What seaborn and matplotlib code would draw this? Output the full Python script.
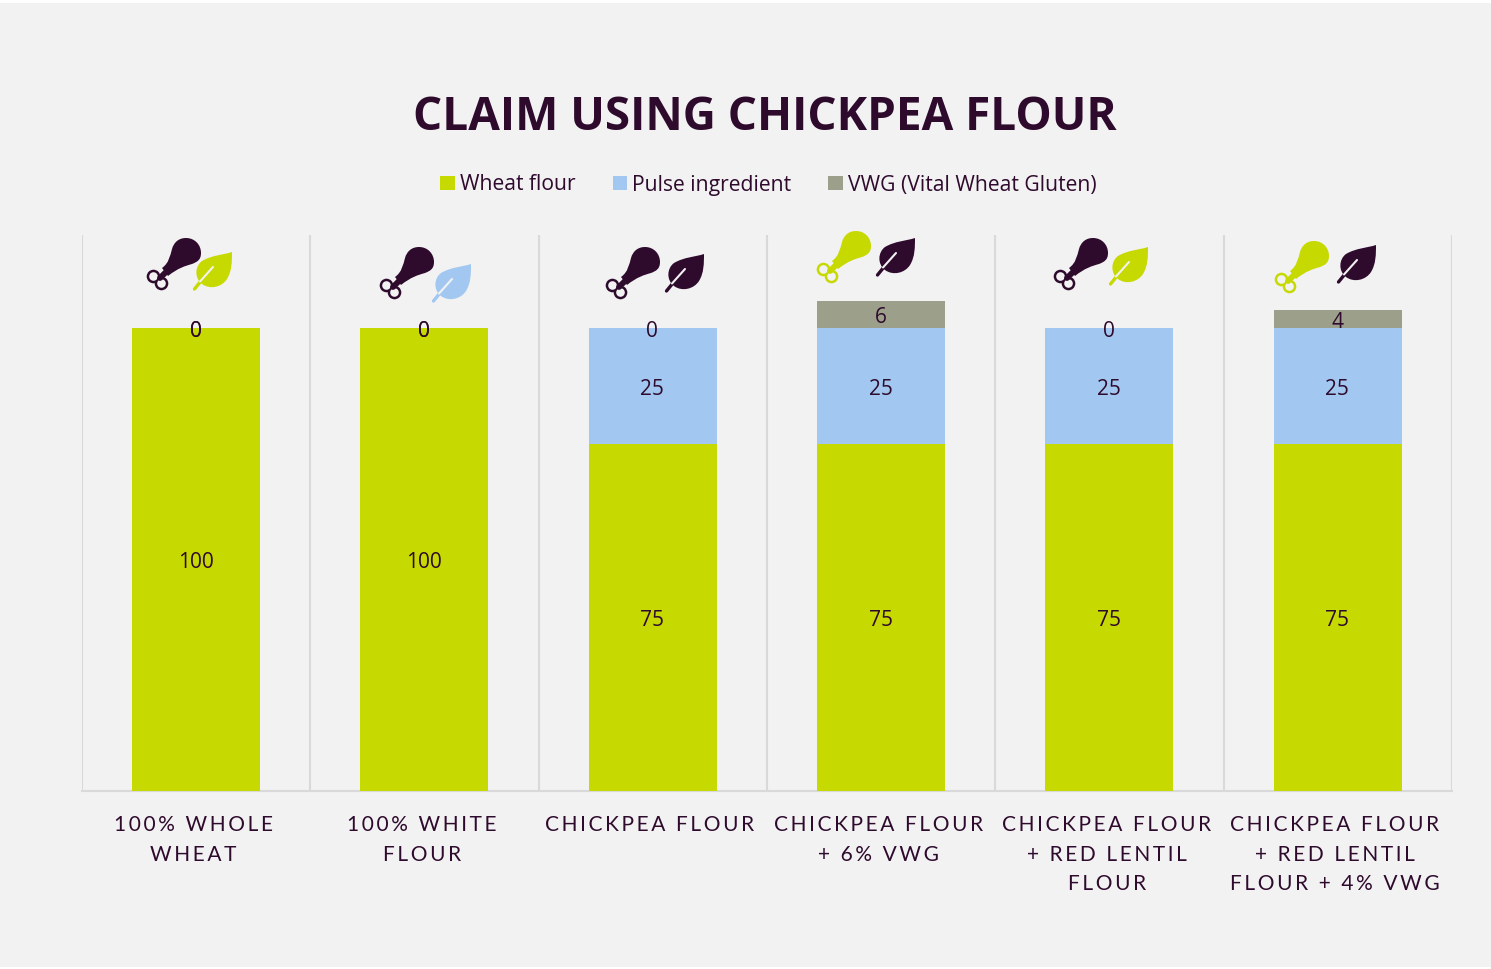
"""
Claim using chickpea flour: stacked composition bars with drumstick/leaf icons.
"""

import matplotlib
matplotlib.use("Agg")
import matplotlib.pyplot as plt
import numpy as np
import seaborn as sns
from matplotlib.patches import Circle, PathPatch, Rectangle
from matplotlib.path import Path
from matplotlib.transforms import Affine2D, ScaledTranslation

# =============================
# DATA
# =============================

CATEGORIES = [
    "100% WHOLE\nWHEAT",
    "100% WHITE\nFLOUR",
    "CHICKPEA FLOUR",
    "CHICKPEA FLOUR\n+ 6% VWG",
    "CHICKPEA FLOUR\n+ RED LENTIL\nFLOUR",
    "CHICKPEA FLOUR\n+ RED LENTIL\nFLOUR + 4% VWG",
]
WHEAT = [100, 100, 75, 75, 75, 75]
PULSE = [0, 0, 25, 25, 25, 25]
VWG = [0, 0, 0, 6, 0, 4]
SERIES_NAMES = ["Wheat flour", "Pulse ingredient", "VWG (Vital Wheat Gluten)"]
TITLE = "CLAIM USING CHICKPEA FLOUR"

# =============================
# STYLE
# =============================

W, H = 1491, 969
BG = "#F2F2F2"
DARK = "#2E0A2D"
GREEN = "#C6D900"
BLUE = "#A2C8F1"
GREY = "#9C9F8A"
GRID = "#D9D9D9"

sns.set_theme(style="white")
plt.rcParams["font.family"] = ["Open Sans", "DejaVu Sans"]

# head of drumstick (px), tip of leaf (px), drumstick colour, leaf colour
ICONS = [
    ((186, 253), (232, 252), DARK, GREEN),
    ((419, 262), (471, 264), DARK, BLUE),
    ((645, 262), (704, 254), DARK, DARK),
    ((856, 246), (915, 238), GREEN, DARK),
    ((1093, 253), (1148, 247), DARK, GREEN),
    ((1314, 256), (1376, 245), GREEN, DARK),
]


def spaced(text, sep="\u2009"):
    # letter spacing, the original uses tracked caps
    return "\n".join(sep.join(line) for line in text.split("\n"))


def px_transform(x, y):
    return Affine2D().scale(1, -1).translate(x, H - y)


def draw_drumstick(fig, x, y, color):
    tr = px_transform(x, y)
    M, C, L, Z = Path.MOVETO, Path.CURVE4, Path.LINETO, Path.CLOSEPOLY
    verts = [
        (0, -15),
        (9, -15), (15, -8), (15, 0),
        (15, 7), (11, 9), (6, 11),
        (-1, 13), (-8, 15), (-18, 23),
        (-24, 15),
        (-17, 10), (-16, 3), (-14, -4),
        (-12, -11), (-7, -15), (0, -15),
        (0, -15),
    ]
    codes = [M, C, C, C, C, C, C, C, C, C, L, C, C, C, C, C, C, Z]
    fig.add_artist(PathPatch(Path(verts, codes), fc=color, ec="none", transform=tr))
    # bone end: short stem, two merged lobes, two holes
    fig.add_artist(plt.Line2D([-20, -26], [19, 25], color=color, lw=4.2, transform=tr))
    for cx, cy in [(-32.5, 23.5), (-24.5, 30.5)]:
        fig.add_artist(Circle((cx, cy), 6.8, fc=color, ec="none", transform=tr))
    for cx, cy in [(-32.5, 23.5), (-24.5, 30.5)]:
        fig.add_artist(Circle((cx, cy), 4.3, fc=BG, ec="none", transform=tr))


def draw_leaf(fig, x, y, color):
    tr = px_transform(x, y)
    M, C, Z = Path.MOVETO, Path.CURVE4, Path.CLOSEPOLY
    verts = [
        (0, 0),
        (-9, 3), (-20, 3), (-30, 9),
        (-37, 14), (-38, 26), (-30, 32),
        (-22, 38), (-10, 35), (-5, 27),
        (0, 19), (0, 9), (0, 0),
        (0, 0),
    ]
    codes = [M, C, C, C, C, C, C, C, C, C, C, C, C, Z]
    fig.add_artist(PathPatch(Path(verts, codes), fc=color, ec="none", transform=tr))
    fig.add_artist(plt.Line2D([-37.5, -31], [37, 29], color=color, lw=2.4, transform=tr))
    fig.add_artist(plt.Line2D([-32, -19], [29.5, 15], color=BG, lw=1.5, transform=tr))


# =============================
# FIGURE
# =============================

fig = plt.figure(figsize=(W / 100, H / 100), dpi=100, facecolor="white")
fig.add_artist(Rectangle((0, 2 / H), 1, (H - 5) / H, transform=fig.transFigure, fc=BG, ec="none", zorder=-5))

ax = fig.add_axes([81.9 / W, 1 - 791 / H, (1452 - 82) / W, (791 - 235) / H])
ax.set_facecolor("none")

bottom = np.zeros(len(CATEGORIES))
for name, values, color in zip(SERIES_NAMES, [WHEAT, PULSE, VWG], [GREEN, BLUE, GREY]):
    sns.barplot(
        x=CATEGORIES,
        y=values,
        bottom=bottom,
        color=color,
        saturation=1,
        width=0.56,
        errorbar=None,
        label=name,
        legend=False,
        linewidth=0,
        ax=ax,
        zorder=3,
    )
    bottom = bottom + np.array(values)

for container in ax.containers:
    for lab in ax.bar_label(container, label_type="center", color=DARK, fontsize=15, zorder=5):
        lab.xyann = (-0.4, -2.2)

ax.set_xlim(-0.5, 5.5)
ax.set_ylim(0, 120.2)
ax.set_yticks([])
ax.set_xticks(range(len(CATEGORIES)))
ax.set_xticklabels(
    [spaced(c) for c in CATEGORIES],
    fontsize=15,
    color=DARK,
    linespacing=1.62,
    family=["Lato", "DejaVu Sans"],
)
ax.tick_params(axis="x", which="major", length=0, pad=17)
label_shift = ScaledTranslation(-2 / 72, 0, fig.dpi_scale_trans)
for lab in ax.get_xticklabels():
    lab.set_transform(lab.get_transform() + label_shift)

ax.set_xticks(np.arange(-0.5, 6), minor=True)
ax.tick_params(axis="x", which="minor", length=0)
ax.grid(False)
ax.grid(True, axis="x", which="minor", color=GRID, lw=1.5, zorder=0)
ax.set_axisbelow(True)

for side in ["top", "left", "right"]:
    ax.spines[side].set_visible(False)
ax.spines["bottom"].set_color(GRID)
ax.spines["bottom"].set_linewidth(1.5)

fig.text(765 / W, 1 - 118 / H, TITLE, ha="center", va="center",
         fontsize=33, fontweight="bold", color=DARK)

ax.legend(
    handles=list(ax.containers),
    labels=SERIES_NAMES,
    ncol=3,
    loc="center",
    bbox_to_anchor=(768.5 / W, 1 - 185 / H),
    bbox_transform=fig.transFigure,
    frameon=False,
    fontsize=15.2,
    labelcolor=DARK,
    handlelength=0.68,
    handleheight=0.68,
    handletextpad=0.25,
    columnspacing=1.75,
    borderpad=0,
)

for head, tip, drum_color, leaf_color in ICONS:
    draw_drumstick(fig, head[0], head[1], drum_color)
    draw_leaf(fig, tip[0], tip[1], leaf_color)

fig.savefig("out.png", dpi=100, facecolor=fig.get_facecolor())
plt.close(fig)
